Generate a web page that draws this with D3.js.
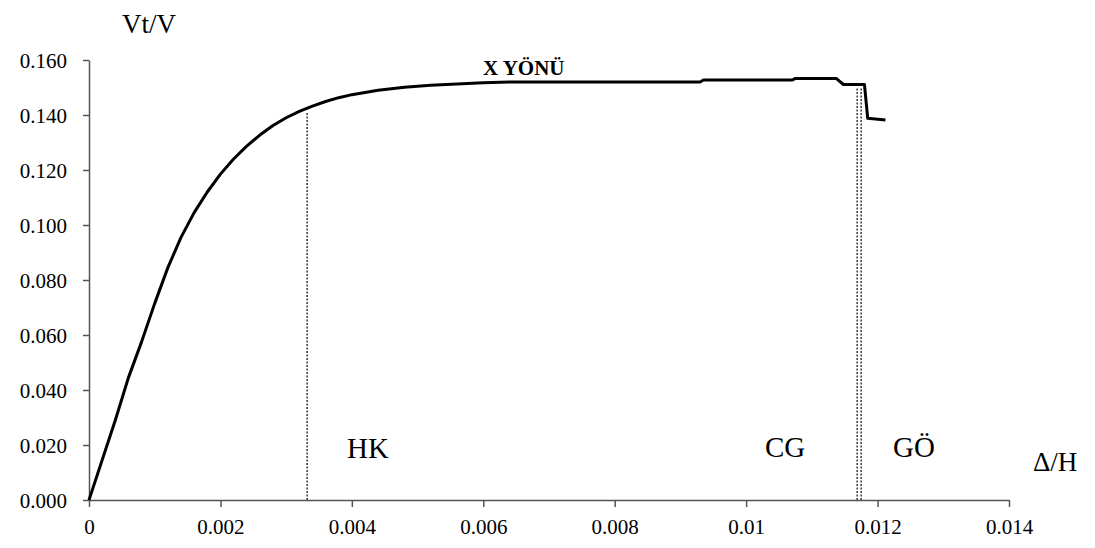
<!DOCTYPE html>
<html>
<head>
<meta charset="utf-8">
<script src="https://cdn.jsdelivr.net/npm/d3@7"></script>
<style>
  body { margin: 0; background: #fff; }
  text { font-family: "Liberation Serif", "Times New Roman", serif; fill: #000; }
</style>
</head>
<body>
<div id="chart"></div>
<script>
// chart size
var w = 1095;
var h = 548;
var margins = { top: 60, right: 86, bottom: 48, left: 89 };
var width = w - margins.left - margins.right;
var height = h - margins.top - margins.bottom;

// data
var drift = [0, 0.0002, 0.0004, 0.0006, 0.0008, 0.0010, 0.0012, 0.0014, 0.0016, 0.0018,
             0.0020, 0.0022, 0.0024, 0.0026, 0.0028, 0.0030, 0.0032, 0.0034, 0.0036, 0.0038,
             0.0040, 0.0044, 0.0048, 0.0052, 0.0056, 0.0060, 0.0064, 0.0093, 0.00935, 0.0107,
             0.01075, 0.01137, 0.01148, 0.0118, 0.01185, 0.01212];
var shear = [0, 0.0145, 0.0290, 0.0445, 0.0575, 0.0715, 0.0845, 0.0955, 0.1045, 0.1120,
             0.1185, 0.1240, 0.1287, 0.1327, 0.1362, 0.1390, 0.1413, 0.1432, 0.1449, 0.1463,
             0.1474, 0.1490, 0.1501, 0.1508, 0.1513, 0.1517, 0.1520, 0.1520, 0.1527, 0.1527,
             0.1533, 0.1533, 0.1511, 0.1511, 0.1388, 0.1382];
var xTicks = [0, 0.002, 0.004, 0.006, 0.008, 0.01, 0.012, 0.014];
var xTickLabels = ["0", "0.002", "0.004", "0.006", "0.008", "0.01", "0.012", "0.014"];
var yTicks = [0, 0.02, 0.04, 0.06, 0.08, 0.1, 0.12, 0.14, 0.16];
var limitNames = ["HK", "CG", "GÖ"];
var limitX = [0.00332, 0.01169, 0.01175];
var limitTop = [0.1422, 0.1511, 0.1511];

var x = d3.scaleLinear().domain([0, 0.014]).range([0, width]);
var y = d3.scaleLinear().domain([0, 0.16]).range([height, 0]);

var svg = d3.select("#chart").append("svg")
    .attr("width", w)
    .attr("height", h)
  .append("g")
    .attr("transform", "translate(" + margins.left + "," + margins.top + ")");

// axes
var xAxis = svg.append("g")
    .attr("transform", "translate(0," + height + ")")
    .call(d3.axisBottom(x).tickValues(xTicks).tickSize(7).tickSizeOuter(0)
      .tickFormat(function(d, i) { return xTickLabels[i]; }));
var yAxis = svg.append("g")
    .call(d3.axisLeft(y).tickValues(yTicks).tickSize(6).tickSizeOuter(0)
      .tickFormat(d3.format(".3f")));

svg.selectAll(".domain, .tick line").attr("stroke", "#555").attr("stroke-width", 1.5);
xAxis.selectAll("text").style("font-size", "21px").attr("dy", "1.15em");
yAxis.selectAll("text").style("font-size", "21px").attr("x", -22).attr("dy", "0.34em");

// dotted limit lines
svg.selectAll(".limit")
    .data(limitX)
  .enter().append("line")
    .attr("class", "limit")
    .attr("x1", function(d) { return x(d); })
    .attr("x2", function(d) { return x(d); })
    .attr("y1", y(0))
    .attr("y2", function(d, i) { return y(limitTop[i]) + 3; })
    .attr("stroke", "#444")
    .attr("stroke-width", 1.6)
    .attr("stroke-dasharray", "2,1.5");

// the curve
var valueline = d3.line()
    .x(function(d, i) { return x(drift[i]); })
    .y(function(d, i) { return y(shear[i]); });

svg.append("path")
    .datum(drift)
    .attr("fill", "none")
    .attr("stroke", "#000")
    .attr("stroke-width", 3)
    .attr("stroke-linejoin", "round")
    .attr("d", valueline);

// labels
svg.append("text").text("Vt/V")
    .attr("x", 122 - margins.left).attr("y", 33 - margins.top)
    .style("font-size", "27px");
svg.append("text").text("X YÖNÜ")
    .attr("x", 483 - margins.left).attr("y", 75 - margins.top)
    .style("font-size", "21px").style("font-weight", "bold");
svg.append("text").text("Δ/H")
    .attr("x", 1033 - margins.left).attr("y", 471 - margins.top)
    .style("font-size", "27px");

var labelPos = [[347, 458], [765, 457], [893, 457]];
svg.selectAll(".zone")
    .data(limitNames)
  .enter().append("text")
    .attr("class", "zone")
    .text(function(d) { return d; })
    .attr("x", function(d, i) { return labelPos[i][0] - margins.left; })
    .attr("y", function(d, i) { return labelPos[i][1] - margins.top; })
    .style("font-size", "29px");
</script>
</body>
</html>
